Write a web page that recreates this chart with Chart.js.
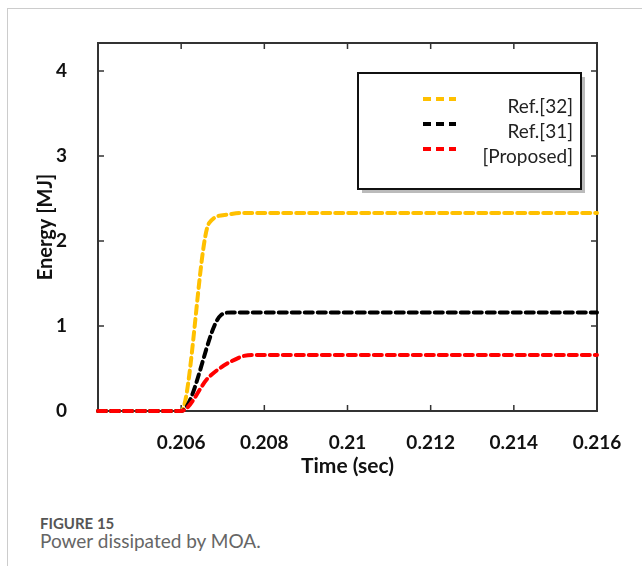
<!DOCTYPE html>
<html>
<head>
<meta charset="utf-8">
<script src="https://cdn.jsdelivr.net/npm/chart.js@4.4.1/dist/chart.umd.min.js"></script>
<style>
  body { margin: 0; background: #fff; }
  #wrap { position: relative; width: 642px; height: 566px; overflow: hidden; }
  #frame { position: absolute; left: 7px; top: 8px; right: -2px; bottom: -2px; border-left: 1px solid #ccc; border-top: 1px solid #ccc; }
  #myChart { position: absolute; left: 0; top: 0; }
  .cap1 { position: absolute; left: 40px; top: 514px; font: bold 15px Lato, sans-serif; color: #555; }
  .cap2 { position: absolute; left: 40px; top: 529px; font: 19px Lato, sans-serif; color: #666; }
</style>
</head>
<body>
<div id="wrap">
  <div id="frame"></div>
  <canvas id="myChart" width="642" height="500"></canvas>
  <div class="cap1">FIGURE 15</div>
  <div class="cap2">Power dissipated by MOA.</div>
</div>
<script>
// series (time in s, energy in MJ)
var ref32Time = [0.2040, 0.2060, 0.20667, 0.2071, 0.2074, 0.2160];
var ref32Vals = [0, 0, 2.21, 2.31, 2.33, 2.33];
var ref31Time = [0.2040, 0.2060, 0.20696, 0.2072, 0.2160];
var ref31Vals = [0, 0, 1.13, 1.16, 1.16];
var propTime = [0.2040, 0.2060, 0.20667, 0.2074, 0.2077, 0.2160];
var propVals = [0, 0, 0.40, 0.63, 0.66, 0.66];
var labels = ["Ref.[32]", "Ref.[31]", "[Proposed]"];
var colors = ["#FFC000", "#000000", "#FF0000"];
var xTicks = [0.206, 0.208, 0.21, 0.212, 0.214, 0.216];
var yTicks = [0, 1, 2, 3, 4];

function pts(t, v) {
    return t.map(function(x, i){ return {x: x, y: v[i]}; });
}

function mkSet(i, t, v) {
    return {
        label: labels[i],
        data: pts(t, v),
        order: 3 - i,   // proposed drawn on top
        borderColor: colors[i],
        borderWidth: 4,
        borderDash: [8, 5],
        borderCapStyle: 'round',
        pointRadius: 0,
        fill: false,
        clip: false,
        cubicInterpolationMode: 'monotone'
    };
}

// frame + inward tick marks (under the lines), legend box (on top)
var boxPlugin = {
    id: 'boxPlugin',
    beforeDatasetsDraw: function(chart) {
        var ctx = chart.ctx, a = chart.chartArea;
        var xs = chart.scales.x, ys = chart.scales.y;
        ctx.save();
        ctx.strokeStyle = '#333';
        ctx.lineWidth = 2;
        ctx.strokeRect(a.left, a.top, a.right - a.left, a.bottom - a.top);
        ctx.lineWidth = 1.5;
        ctx.beginPath();
        xTicks.forEach(function(v){
            if (v >= 0.216) return;
            var px = xs.getPixelForValue(v);
            ctx.moveTo(px, a.bottom); ctx.lineTo(px, a.bottom - 6);
            ctx.moveTo(px, a.top); ctx.lineTo(px, a.top + 6);
        });
        yTicks.forEach(function(v){
            if (v == 0) return;
            var py = ys.getPixelForValue(v);
            ctx.moveTo(a.left, py); ctx.lineTo(a.left + 6, py);
            ctx.moveTo(a.right, py); ctx.lineTo(a.right - 6, py);
        });
        ctx.stroke();
        ctx.restore();
    },
    afterDatasetsDraw: function(chart) {
        var ctx = chart.ctx;
        ctx.save();
        var L = 358, T = 73, W = 223, H = 116;
        ctx.fillStyle = '#bbb';
        ctx.fillRect(L + 4, T + 4, W, H);
        ctx.fillStyle = '#fff';
        ctx.fillRect(L, T, W, H);
        ctx.strokeStyle = '#111';
        ctx.lineWidth = 2;
        ctx.strokeRect(L, T, W, H);
        chart.data.datasets.forEach(function(ds, i){
            var y = 99 + i * 25;
            ctx.strokeStyle = ds.borderColor;
            ctx.lineWidth = 4;
            ctx.setLineDash([8, 5]);
            ctx.beginPath();
            ctx.moveTo(423, y); ctx.lineTo(456, y);
            ctx.stroke();
            ctx.setLineDash([]);
            ctx.fillStyle = '#222';
            ctx.font = '19px Lato, sans-serif';
            ctx.textAlign = 'right';
            ctx.textBaseline = 'middle';
            ctx.fillText(ds.label, 573, y + 8);
        });
        ctx.restore();
    }
};

var ctx = document.getElementById("myChart").getContext('2d');
var myChart = new Chart(ctx, {
    type: 'line',
    data: {
        datasets: [
            mkSet(0, ref32Time, ref32Vals),
            mkSet(1, ref31Time, ref31Vals),
            mkSet(2, propTime, propVals)
        ]
    },
    options: {
        responsive: false,
        animation: false,
        layout: { padding: { left: 0, top: 43, right: 45, bottom: 0 } },
        plugins: { legend: { display: false }, tooltip: { enabled: false } },
        scales: {
            x: {
                type: 'linear',
                min: 0.204,
                max: 0.216,
                afterBuildTicks: function(s){ s.ticks = xTicks.map(function(v){ return {value: v}; }); },
                afterFit: function(s){ s.height = 89; },
                grid: { display: false },
                border: { display: false },
                ticks: {
                    padding: 12,
                    color: '#111',
                    font: { family: 'Lato', size: 19, weight: 'bold' },
                    callback: function(v){ return String(+v.toFixed(3)); }
                },
                title: {
                    display: true,
                    text: 'Time (sec)',
                    color: '#111',
                    font: { family: 'Lato', size: 21, weight: 'bold' },
                    padding: { bottom: 21 }
                }
            },
            y: {
                min: 0,
                max: 4.33,
                afterBuildTicks: function(s){ s.ticks = yTicks.map(function(v){ return {value: v}; }); },
                afterFit: function(s){ s.width = 98; },
                grid: { display: false },
                border: { display: false },
                ticks: {
                    padding: 23,
                    color: '#111',
                    font: { family: 'Lato', size: 19, weight: 'bold' }
                },
                title: {
                    display: true,
                    text: 'Energy [MJ]',
                    color: '#111',
                    font: { family: 'Lato', size: 20, weight: 'bold' },
                    padding: { top: 34 }
                }
            }
        }
    },
    plugins: [boxPlugin]
});
</script>
</body>
</html>
